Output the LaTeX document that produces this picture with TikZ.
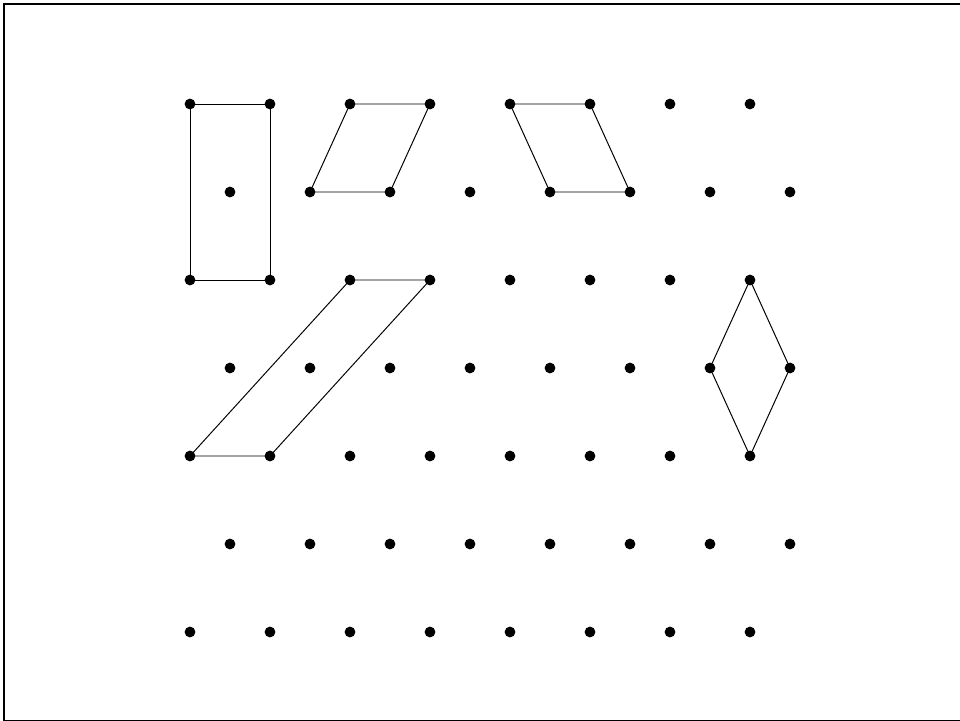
\documentclass[tikz,border=0pt]{standalone}
\usepackage{tikz}
\usetikzlibrary{calc}
\tikzset{
  dot/.style={circle, fill=black, inner sep=0pt, minimum size=0.27cm},
  edge/.style={line width=0.7pt, line join=round}
}

\begin{document}
\begin{tikzpicture}
  \useasboundingbox (0,0) rectangle (24,-18.025);
  \begin{scope}
    \clip (0,0) rectangle (24,-18.025);
    \draw[line width=1.8pt] (0.1,-0.1) rectangle (24.5,-18.03);
  \end{scope}
  % lattice of dots, odd rows shifted by half a step
  \foreach \r in {0,...,6} {
    \foreach \c in {0,...,7} {
      \pgfmathsetmacro{\xs}{mod(\r,2)}
      \node[dot] (p-\r-\c) at ({4.75+2*\c+\xs}, {-2.6-2.2*\r}) {};
    }
  }
  % quadrilaterals
  \draw[edge] (p-0-0.center) -- (p-0-1.center) -- (p-2-1.center) -- (p-2-0.center) -- cycle;
  \draw[edge] (p-0-2.center) -- (p-0-3.center) -- (p-1-2.center) -- (p-1-1.center) -- cycle;
  \draw[edge] (p-0-4.center) -- (p-0-5.center) -- (p-1-5.center) -- (p-1-4.center) -- cycle;
  \draw[edge] (p-2-2.center) -- (p-2-3.center) -- (p-4-1.center) -- (p-4-0.center) -- cycle;
  \draw[edge] (p-2-7.center) -- (p-3-7.center) -- (p-4-7.center) -- (p-3-6.center) -- cycle;
\end{tikzpicture}
\end{document}
